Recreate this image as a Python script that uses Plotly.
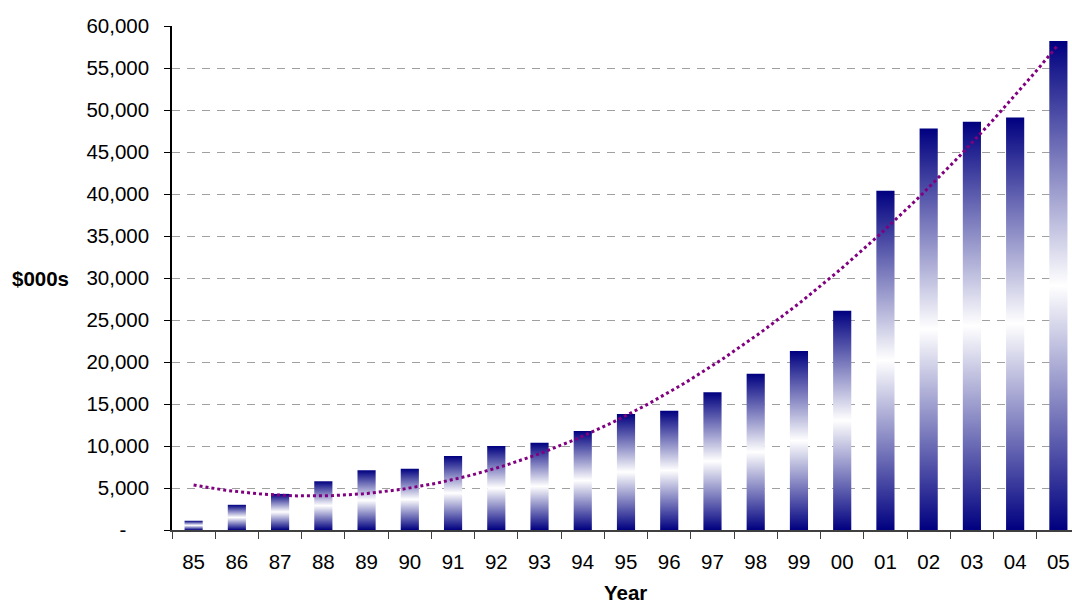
import numpy as np
import plotly.graph_objects as go

years = ["85", "86", "87", "88", "89", "90", "91", "92", "93", "94", "95",
         "96", "97", "98", "99", "00", "01", "02", "03", "04", "05"]
values = [1100, 3000, 4300, 5800, 7100, 7300, 8800, 10000, 10400, 11800, 13800,
          14200, 16400, 18600, 21300, 26100, 40400, 47800, 48600, 49100, 58200]
y_ticks = [0, 5000, 10000, 15000, 20000, 25000, 30000, 35000, 40000, 45000, 50000, 55000, 60000]
y_ticktext = ["-\u00a0\u00a0\u00a0\u00a0", "5,000", "10,000", "15,000", "20,000", "25,000", "30,000",
              "35,000", "40,000", "45,000", "50,000", "55,000", "60,000"]

FONT = "Liberation Sans, Arial, sans-serif"
FS = 20.5
NAVY = "#000080"
BAR_W = 0.42
XR = [-0.5, 20.315]

vals = np.array(values, dtype=float)
fig = go.Figure()

# category carrier trace (invisible) so the x axis shows the year categories
fig.add_trace(go.Bar(x=years, y=values, width=BAR_W, opacity=0,
                     hoverinfo="skip", showlegend=False))

# gradient-filled bars (navy -> white -> navy) on an overlaid linear axis
for i, v in enumerate(values):
    fig.add_trace(go.Scatter(
        x=[i - BAR_W / 2, i + BAR_W / 2, i + BAR_W / 2, i - BAR_W / 2, i - BAR_W / 2],
        y=[0, 0, v, v, 0],
        xaxis="x2", mode="lines", line=dict(width=0, color="rgba(0,0,0,0)"),
        fill="toself",
        fillgradient=dict(type="vertical",
                          colorscale=[[0, NAVY], [0.5, "#ffffff"], [1, NAVY]]),
        hoverinfo="skip", showlegend=False,
    ))

# polynomial (order 2) trendline fitted to the data
xi = np.arange(1, len(values) + 1)
coef = np.polyfit(xi, vals, 2)
xs = np.linspace(1, len(values), 200)
trend = np.polyval(coef, xs)
fig.add_trace(go.Scatter(
    x=xs - 1, y=trend, mode="lines", xaxis="x2",
    line=dict(color="#800080", width=3, dash="dot"),
    hoverinfo="skip", showlegend=False,
))

fig.update_layout(
    width=1072, height=605,
    margin=dict(l=172, r=0, t=26, b=75),
    paper_bgcolor="white", plot_bgcolor="white",
    font=dict(family=FONT, size=FS, color="black"),
    xaxis=dict(
        type="category", range=XR,
        showline=True, linecolor="#404040", linewidth=1.5,
        ticks="outside", tickson="boundaries", ticklen=7, tickcolor="#404040",
        showgrid=False, ticklabelstandoff=13,
        tickfont=dict(family=FONT, size=FS, color="black"),
    ),
    xaxis2=dict(overlaying="x", range=XR, visible=False),
    yaxis=dict(
        range=[0, 60000], tickvals=y_ticks, ticktext=y_ticktext,
        showline=True, linecolor="black", linewidth=1.5,
        ticks="outside", ticklen=6, tickcolor="black",
        showgrid=True, gridcolor="#a0a0a0", gridwidth=1, griddash="8px,7px",
        zeroline=False, ticklabelstandoff=11,
        tickfont=dict(family=FONT, size=FS, color="black"),
    ),
    annotations=[
        dict(text="<b>$000s</b>", xref="paper", yref="paper",
             x=-0.1456, y=0.5, xanchor="center", yanchor="middle",
             showarrow=False, font=dict(family=FONT, size=FS, color="black")),
        dict(text="<b>Year</b>", xref="paper", yref="paper",
             x=0.5044, y=-0.124, xanchor="center", yanchor="middle",
             showarrow=False, font=dict(family=FONT, size=FS, color="black")),
    ],
)

fig.write_html("out.html")
